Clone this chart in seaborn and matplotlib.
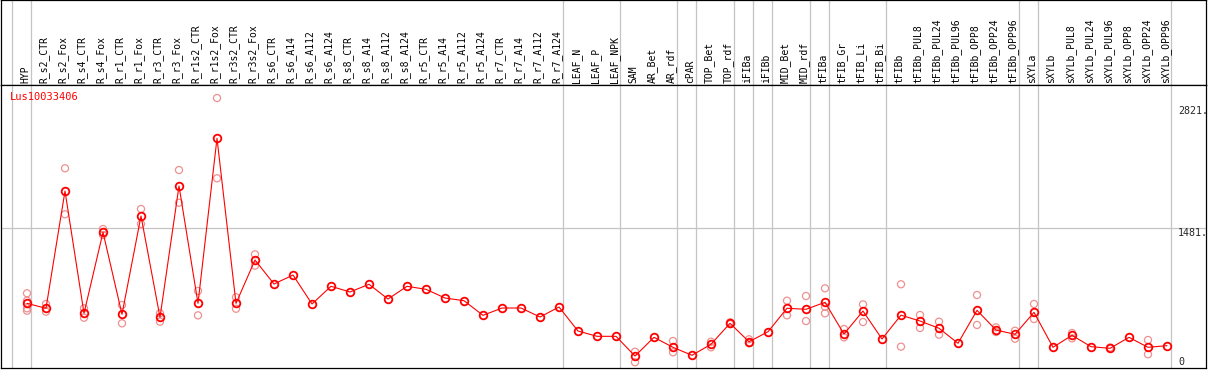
import matplotlib
matplotlib.use("Agg")
import matplotlib.pyplot as plt
import seaborn as sns
import pandas as pd
import numpy as np

# sample columns, left to right
samples = [
    "HYP",
    "R_s2_CTR", "R_s2_Fox", "R_s4_CTR", "R_s4_Fox", "R_r1_CTR", "R_r1_Fox",
    "R_r3_CTR", "R_r3_Fox", "R_r1s2_CTR", "R_r1s2_Fox", "R_r3s2_CTR", "R_r3s2_Fox",
    "R_s6_CTR", "R_s6_A14", "R_s6_A112", "R_s6_A124", "R_s8_CTR", "R_s8_A14",
    "R_s8_A112", "R_s8_A124", "R_r5_CTR", "R_r5_A14", "R_r5_A112", "R_r5_A124",
    "R_r7_CTR", "R_r7_A14", "R_r7_A112", "R_r7_A124",
    "LEAF_N", "LEAF_P", "LEAF_NPK",
    "SAM", "AR_Bet", "AR_rdf",
    "cPAR",
    "TOP_Bet", "TOP_rdf",
    "iFIBa",
    "iFIBb",
    "MID_Bet", "MID_rdf",
    "tFIBa",
    "tFIB_Gr", "tFIB_Li", "tFIB_Bi",
    "tFIBb", "tFIBb_PUL8", "tFIBb_PUL24", "tFIBb_PUL96", "tFIBb_OPP8",
    "tFIBb_OPP24", "tFIBb_OPP96",
    "sXYLa",
    "sXYLb", "sXYLb_PUL8", "sXYLb_PUL24", "sXYLb_PUL96", "sXYLb_OPP8",
    "sXYLb_OPP24", "sXYLb_OPP96",
]

# mean expression per sample
means = [
    662,
    608, 1888, 553, 1437, 542, 1615, 510, 1943, 662, 2463, 662, 1135,
    873, 971, 655, 848, 786, 870, 709, 848, 815, 720, 691, 531,
    611, 611, 513, 622,
    360, 302, 302,
    87, 291, 182,
    95,
    215, 444,
    243,
    352,
    608, 597,
    673,
    327, 578, 273,
    533, 469, 390, 226, 586, 371, 324,
    564,
    182, 313, 189, 171, 291, 182, 200,
]

# individual replicates (only the ones visible apart from the mean)
rep_samples = [
    "HYP", "HYP", "HYP", "HYP",
    "R_s2_CTR", "R_s2_CTR", "R_s2_Fox", "R_s2_Fox",
    "R_s4_CTR", "R_s4_CTR", "R_s4_Fox", "R_s4_Fox",
    "R_r1_CTR", "R_r1_CTR", "R_r1_Fox", "R_r1_Fox",
    "R_r3_CTR", "R_r3_CTR", "R_r3_Fox", "R_r3_Fox",
    "R_r1s2_CTR", "R_r1s2_CTR", "R_r1s2_Fox", "R_r1s2_Fox",
    "R_r3s2_CTR", "R_r3s2_CTR", "R_r3s2_Fox", "R_r3s2_Fox",
    "SAM", "SAM", "AR_rdf", "AR_rdf",
    "TOP_Bet", "TOP_Bet", "TOP_rdf", "TOP_rdf",
    "iFIBa", "iFIBa",
    "MID_Bet", "MID_Bet", "MID_rdf", "MID_rdf",
    "tFIBa", "tFIBa", "tFIBa",
    "tFIB_Gr", "tFIB_Gr", "tFIB_Li", "tFIB_Li",
    "tFIBb", "tFIBb", "tFIBb_PUL8", "tFIBb_PUL8",
    "tFIBb_PUL24", "tFIBb_PUL24", "tFIBb_OPP8", "tFIBb_OPP8",
    "tFIBb_OPP24", "tFIBb_OPP24", "tFIBb_OPP96", "tFIBb_OPP96",
    "sXYLa", "sXYLa", "sXYLb_PUL8", "sXYLb_PUL8",
    "sXYLb_PUL96", "sXYLb_OPP24", "sXYLb_OPP24",
]
rep_values = [
    772, 691, 608, 582,
    655, 571, 2136, 1634,
    608, 505, 1473, 1408,
    644, 444, 1692, 1528,
    553, 462, 2117, 1760,
    797, 531, 2903, 2027,
    728, 603, 1197, 1073,
    134, 19, 251, 128,
    243, 182, 455, 435,
    270, 226,
    691, 531, 742, 469,
    826, 625, 553,
    382, 291, 651, 458,
    870, 189, 535, 393,
    462, 320, 753, 426,
    400, 349, 363, 276,
    655, 491, 338, 280,
    180, 262, 106,
]

# number of samples in each tissue group (separated by grey lines)
group_sizes = [1, 28, 3, 3, 1, 2, 1, 1, 2, 1, 3, 7, 1, 7]
gene = "Lus10033406"
scale_labels = [2821, 1481]

sns.set_theme(style="white")
plt.rcParams["font.family"] = ["DejaVu Sans Mono", "DejaVu Sans"]

df = pd.DataFrame({"sample": samples, "value": means})
df["pos"] = np.arange(len(samples))
reps = pd.DataFrame({"sample": rep_samples, "value": rep_values})
reps["pos"] = reps["sample"].map({s: i for i, s in enumerate(samples)})

W, H = 1209, 370
fig = plt.figure(figsize=(W / 100, H / 100), dpi=100)
ax_head = fig.add_axes([1 / W, (H - 85) / H, 1205 / W, 85 / H])
ax = fig.add_axes([1 / W, (H - 368) / H, 1205 / W, 283 / H], sharex=ax_head)

grid_col = "#c4c4c4"
ends = np.cumsum(group_sizes) - 1
for b in np.concatenate([[-1], ends]):
    ax_head.axvline(b + 0.21, color=grid_col, lw=0.9, zorder=0)
    ax.axvline(b + 0.21, color=grid_col, lw=0.9, zorder=0)
ax.axhline(scale_labels[1], color=grid_col, lw=0.9, zorder=0)

# replicates
sns.scatterplot(data=reps, x="pos", y="value", ax=ax, color="#ee9090",
                edgecolor="#ee9090", s=26, linewidth=0.9, zorder=2, legend=False)
ax.collections[-1].set_facecolor("none")

# means
sns.lineplot(data=df, x="pos", y="value", ax=ax, color="red", lw=0.8,
             marker="o", markersize=5.5, markerfacecolor="none",
             markeredgecolor="red", markeredgewidth=1.3, zorder=3)

ax.set_xlim((1 - 27) / 19, (1206 - 27) / 19)
ax.set_ylim(-43.7, 3045)
ax_head.set_ylim(0, 1)

for i, s in enumerate(samples):
    ax_head.text(i - 0.1, 0.025, s, rotation=90, ha="center", va="bottom",
                 fontsize=7, color="black")

ytr = ax.get_yaxis_transform()
for v in scale_labels:
    ax.text(0.9768, v, f"{v}.", transform=ytr, ha="left", va="top", fontsize=7.2)
ax.text(0.9768, 20, "0", transform=ytr, ha="left", va="center", fontsize=7.2)

ax.text(0.0075, 0.9587, gene, transform=ax.transAxes, ha="left", va="center",
        fontsize=7.5, color="red")

for a in (ax, ax_head):
    a.set_xticks([])
    a.set_yticks([])
    a.set_xlabel("")
    a.set_ylabel("")
    for sp in a.spines.values():
        sp.set_visible(True)
        sp.set_color("black")
        sp.set_linewidth(0.9)

fig.savefig("out.png", dpi=100)
